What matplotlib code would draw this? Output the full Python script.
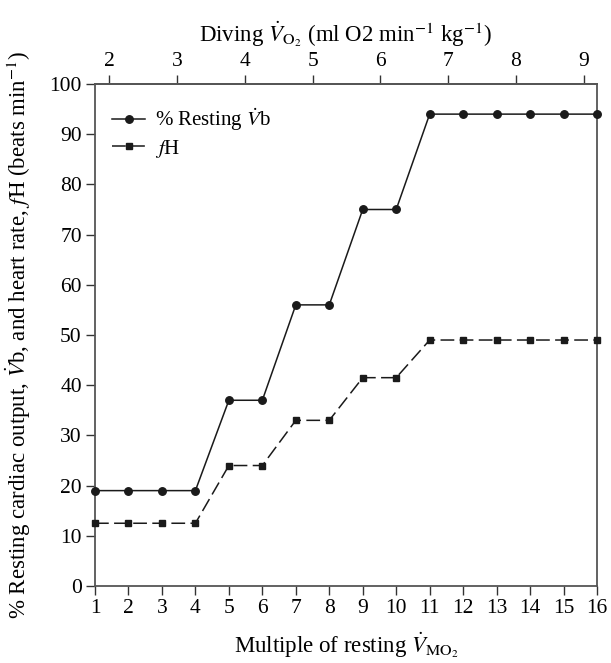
import numpy as np
import matplotlib
matplotlib.use('Agg')
import matplotlib.pyplot as plt
from matplotlib.lines import Line2D

plt.rcParams['font.family'] = ['Liberation Serif', 'DejaVu Serif']
plt.rcParams['mathtext.fontset'] = 'stix'

# data
multiple = [1, 2, 3, 4, 5, 6, 7, 8, 9, 10, 11, 12, 13, 14, 15, 16]
vb_pct = [19, 19, 19, 19, 37, 37, 56, 56, 75, 75, 94, 94, 94, 94, 94, 94]
fh = [12.5, 12.5, 12.5, 12.5, 24, 24, 33, 33, 41.5, 41.5, 49, 49, 49, 49, 49, 49]
top_ticks = [2, 3, 4, 5, 6, 7, 8, 9]

# top axis (diving VO2) vs bottom axis (multiple of resting)
def to_top(b):
    return 2 + (np.asarray(b) - 1.43) / 2.024

def to_bottom(t):
    return 1.43 + (np.asarray(t) - 2) * 2.024

DASH = (0, (9, 3.5))
INK = '#1a1a1a'

fig = plt.figure(figsize=(6.11, 6.63), dpi=100)
ax = fig.add_axes([95 / 611, 77 / 663, 502 / 611, 502 / 663])

ax.plot(multiple, vb_pct, color=INK, lw=1.1, marker='o', ms=5.4,
        clip_on=False, zorder=3)
ax.plot(multiple, fh, color=INK, lw=1.1, marker='s', ms=4.2,
        linestyle=DASH, clip_on=False, zorder=3)

ax.set_xlim(1, 16)
ax.set_ylim(0, 100)
ax.set_xticks(multiple)
ax.set_yticks(np.arange(0, 101, 10))

for s in ax.spines.values():
    s.set_color('#555555')
    s.set_linewidth(1.3)

ax.tick_params(axis='both', direction='out', length=6.5, width=1.0,
               color='#333333', labelsize=15.5, pad=3)

sec = ax.secondary_xaxis('top', functions=(to_top, to_bottom))
sec.set_xticks(top_ticks)
sec.tick_params(direction='out', length=6.5, width=1.0, color='#333333',
                labelsize=15.5, pad=3)
sec.spines['top'].set_color('#555555')
sec.spines['top'].set_linewidth(1.3)
sec.set_xlabel(r'Diving $\dot{V}_{\mathrm{O}_2}$ (ml O2 min$^{-1}$ kg$^{-1}$)',
               fontsize=16.5, labelpad=7)

ax.set_xlabel(r'Multiple of resting $\dot{V}_{\mathrm{MO}_2}$', fontsize=16.5,
              labelpad=9)
ax.set_ylabel(r'% Resting cardiac output, $\dot{V}$b, and heart rate, $f$H (beats min$^{-1}$)',
              fontsize=16.5, labelpad=12)

handles = [
    Line2D([], [], color=INK, lw=1.1, marker='o', ms=5.4),
    Line2D([], [], color=INK, lw=1.1, marker='s', ms=4.2, linestyle=DASH),
]
ax.legend(handles, [r'% Resting $\dot{V}$b', r'$f$H'], loc='upper left',
          frameon=False, fontsize=15, handlelength=1.6, handletextpad=0.45,
          labelspacing=0.2, borderpad=0, borderaxespad=0,
          bbox_to_anchor=(0.034, 0.955))

fig.savefig('out.png', dpi=100)
